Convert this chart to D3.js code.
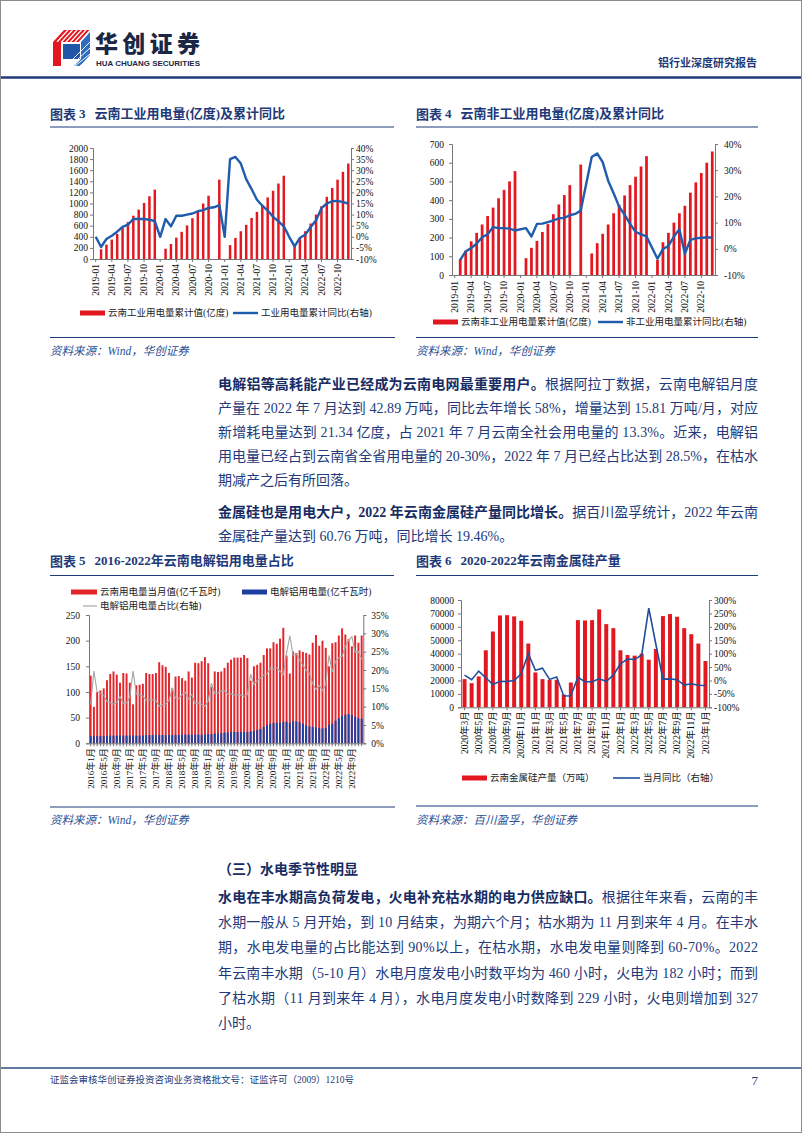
<!DOCTYPE html>
<html>
<head>
<meta charset="utf-8">
<script src="https://cdn.jsdelivr.net/npm/d3@7"></script>
<style>
  html, body { margin: 0; padding: 0; background: #fff; }
  svg { display: block; }
</style>
</head>
<body>
<div id="page"></div>
<script>
var width = 802;
var height = 1133;

var NAVY = '#1f3a78';
var TEXT = '#22397a';
var RED = '#e3171f';
var BLUE = '#1f5cae';
var SERIF = '"Liberation Serif", "Noto Sans CJK SC", serif';
var CJK = '"Noto Sans CJK SC", sans-serif';

// ---------- 图表3 / 图表4 : 2019-01 ~ 2022-12 ----------
var months34 = [];
for (var yy = 2019; yy <= 2022; yy++) for (var mm = 1; mm <= 12; mm++) months34.push(yy + '-' + (mm < 10 ? '0' + mm : mm));
var ticks34 = months34.filter((d, i) => i % 3 === 0);

// 云南工业用电量累计值(亿度)
var indCum = [
  null, 175, 260, 350, 450, 560, 665, 780, 890, 1010, 1130, 1250,
  null, 185, 270, 385, 490, 605, 735, 860, 1000, 1140, null, 1430,
  null, 250, 380, 500, 615, 740, 850, 975, 1110, 1230, 1360, 1500,
  null, 240, 370, 500, 640, 800, 950, 1120, 1280, 1430, 1570, 1720
];
// 工业用电量累计同比(%)
var indYoy = [
  0, -4.6, -1, 0.5, 2.3, 4.5, 5.5, 8, 8, 8, 7.7, 7,
  0, 8, 4.7, 9.5, 9.5, 10, 10.5, 11.5, 12, 13, 13.3, 14.3,
  0, 35, 36, 33, 26, 21.5, 16.7, 14, 11.8, 9, 7, 4.7,
  0, -4.3, -0.5, 1, 4.4, 7.4, 12.9, 15, 16, 16.2, 15.6, 15
];
// 云南非工业用电量累计值(亿度)
var nonCum = [
  null, 85, 130, 180, 225, 270, 315, 360, 410, 455, 500, 555,
  null, 90, 145, 182, 230, 272, 325, 377, 427, 480, null, 590,
  null, 115, 170, 220, 270, 330, 375, 425, 480, 525, 580, 635,
  null, 80, 175, 225, 280, 330, 370, 440, 495, 545, 600, 660
];
// 非工业用电量累计同比(%)
var nonYoy = [
  null, -4.2, -1, 0.3, 2, 4.4, 5.5, 8.3, 7.9, 7.9, 7.7, 7,
  null, 7.9, 4.7, 9.5, 9.6, 10.2, 10.8, 11.6, 11.8, 12.8, 13.3, 14.6,
  null, 35, 36.4, 33.1, 26, 21.2, 16.1, 13, 9.5, 6.5, 5.5, 4.7,
  null, -3.8, -0.1, 1.1, 4.7, 7.5, -1.9, 3.4, 4, 4.2, 4.3, 4.3
];

// ---------- 图表5 : 2016-01 ~ 2022-12 ----------
var months5 = [];
for (var y5 = 2016; y5 <= 2022; y5++) for (var m5 = 1; m5 <= 12; m5++) months5.push(y5 + '年' + m5 + '月');
var ticks5 = months5.filter((d, i) => i % 4 === 0);
// 云南用电量当月值(亿千瓦时)
var ynPower = [
  132, 71, 100, 103, 107, 123, 135, 140, 134, 118, 137, 136,
  118, 76, 113, 114, 116, 137, 135, 135, 137, 158, 152, 149,
  137, 107, 130, 131, 127, 122, 140, 128, 157, 156, 160, 168,
  156, 110, 140, 139, 140, 147, 157, 163, 167, 167, 167, 172,
  166, 122, 150, 153, 157, 172, 185, 185, 197, 194, 204, 225,
  171, 136, 179, 176, 181, 178, 176, 173, 196, 211, 190, 200,
  186, 150, 195, 197, 210, 224, 212, 203, 189, 210, 196, 210
];
// 电解铝用电量(亿千瓦时)
var alPower = [
  14, 14, 14, 14, 14, 14, 15, 15, 15, 15, 15, 15,
  15, 15, 15, 15, 15, 16, 16, 16, 16, 16, 16, 16,
  16, 16, 16, 16, 17, 17, 17, 17, 17, 17, 17, 17,
  18, 18, 19, 19, 20, 21, 21, 22, 22, 22, 22, 22,
  22, 23, 24, 26, 28, 32, 35, 38, 40, 40, 40, 42,
  42, 40, 43, 43, 41, 38, 35, 33, 32, 31, 30, 29,
  30, 36, 38, 44, 49, 53, 56, 57, 55, 52, 49, 48
];
// 电解铝用电量占比(%)
var alShare = [
  10.6, 19.7, 14, 13.6, 13.1, 11.4, 11.1, 10.7, 11.2, 12.7, 10.9, 11,
  12.7, 19.7, 13.3, 13.2, 12.9, 11.7, 11.9, 11.9, 11.7, 10.1, 10.5, 10.7,
  11.7, 15, 12.3, 12.2, 13.4, 13.9, 12.1, 13.3, 10.8, 10.9, 10.6, 10.1,
  11.5, 16.4, 13.6, 13.7, 14.3, 14.3, 13.4, 13.5, 13.2, 13.2, 13.2, 12.8,
  13.3, 18.9, 16, 17, 17.8, 18.6, 18.9, 20.5, 20.3, 20.6, 19.6, 18.7,
  24.6, 29.4, 24, 24.4, 22.7, 21.3, 19.9, 19.1, 16.3, 14.7, 15.8, 14.5,
  16.1, 24, 19.5, 22.3, 23.3, 23.7, 26.4, 28.1, 29.1, 24.8, 25, 22.9
];

// ---------- 图表6 : 2020-03 ~ 2023-01 ----------
var months6 = [];
for (var k = 0; k < 35; k++) { var mAbs = 2020 * 12 + 2 + k; months6.push(Math.floor(mAbs / 12) + '年' + (mAbs % 12 + 1) + '月'); }
var ticks6 = months6.filter((d, i) => i % 2 === 0);
// 云南金属硅产量
var siOutput = [
  21000, 18000, 23000, 42500, 56500, 68500, 68700, 67800, 64500, 47500,
  26000, 21000, 20500, 20500, 9500, 18500, 65000, 64700, 65000, 73000,
  62000, 59000, 42500, 39000, 38500, 40000, 35500, 43500, 68000, 69500,
  67500, 59000, 54500, 47500, 34500
];
// 当月同比(%)
var siYoy = [
  20, 3, 35, 10, -15, -3, -4, 0, 25, 100,
  38, 46, 4, 13, -58, -57, 12, -5, -5, 6,
  -3, 20, 62, 80, 78, 95, 270, 135, 5, 6,
  3, -17, -12, -18, -19
];

// ======================================================
var svg = d3.select('#page').append('svg')
  .attr('width', width)
  .attr('height', height);

svg.append('rect')
  .attr('x', 0.5).attr('y', 0.5)
  .attr('width', width - 1).attr('height', height - 1)
  .attr('fill', '#fff').attr('stroke', '#8c8c8c');

// ---------- header ----------
var logo = svg.append('g');
logo.append('polygon').attr('points', '53,42 64,30 90,30 79,42').attr('fill', RED);
for (var s = 0; s < 6; s++) {
  logo.append('line')
    .attr('x1', 57 + s * 4.5).attr('y1', 42).attr('x2', 68 + s * 4.5).attr('y2', 30)
    .attr('stroke', '#fff').attr('stroke-width', 1.2);
}
logo.append('rect').attr('x', 53).attr('y', 42).attr('width', 8).attr('height', 24).attr('fill', RED);
logo.append('rect').attr('x', 63).attr('y', 44).attr('width', 17).attr('height', 15).attr('fill', '#1f56a8');
logo.append('polygon').attr('points', '63,66 80,66 90,55 90,32 81,42 81,59 74,66').attr('fill', '#2d6cc0');
for (var s2 = 0; s2 < 4; s2++) {
  logo.append('line')
    .attr('x1', 66 + s2 * 4.5).attr('y1', 66).attr('x2', 90).attr('y2', 42 + s2 * 6)
    .attr('stroke', '#fff').attr('stroke-width', 1);
}
svg.append('text').attr('x', 95).attr('y', 52)
  .attr('font-family', CJK).attr('font-weight', 900).attr('font-size', 23)
  .attr('fill', '#1b2745').attr('textLength', 105).text('华创证券');
svg.append('text').attr('x', 96).attr('y', 66)
  .attr('font-family', '"Liberation Sans", sans-serif').attr('font-weight', 700).attr('font-size', 6.5)
  .attr('fill', '#1b2745').attr('textLength', 104).attr('lengthAdjust', 'spacingAndGlyphs')
  .text('HUA CHUANG SECURITIES');
svg.append('text').attr('x', 757).attr('y', 67).attr('text-anchor', 'end')
  .attr('font-family', CJK).attr('font-weight', 700).attr('font-size', 11)
  .attr('fill', NAVY).text('铝行业深度研究报告');
svg.append('line').attr('x1', 1).attr('x2', 801).attr('y1', 77.5).attr('y2', 77.5)
  .attr('stroke', NAVY).attr('stroke-width', 2.5);

// ---------- helpers ----------
function hline(x1, x2, y, w) {
  svg.append('line').attr('x1', x1).attr('x2', x2).attr('y1', y).attr('y2', y)
    .attr('stroke', NAVY).attr('stroke-width', w || 1);
}
function chartTitle(x, y, num, txt) {
  var t = svg.append('text').attr('x', x).attr('y', y).attr('dominant-baseline', 'central')
    .attr('font-family', SERIF).attr('font-weight', 700).attr('font-size', 13).attr('fill', NAVY);
  t.append('tspan').attr('font-family', CJK).text('图表 ');
  t.append('tspan').text(num);
  t.append('tspan').attr('dx', 9).text(txt);
}
function sourceNote(x, y, txt) {
  svg.append('text').attr('x', x).attr('y', y).attr('dominant-baseline', 'central')
    .attr('font-family', SERIF).attr('font-style', 'italic').attr('font-size', 11.5)
    .attr('fill', '#2a4f96').text(txt);
}
function styleAxis(g, size) {
  g.attr('font-family', SERIF).attr('font-size', size);
  g.selectAll('text').attr('fill', '#111');
  g.selectAll('line').attr('stroke', '#777');
  g.select('.domain').attr('stroke', '#777');
}
function rotateLabels(g, gap) {
  g.selectAll('text')
    .attr('transform', 'rotate(-90)')
    .attr('x', -gap).attr('y', 0).attr('dy', '0.33em')
    .style('text-anchor', 'end');
}
function legendRect(x, y, w, color, label) {
  svg.append('rect').attr('x', x).attr('y', y - 2.5).attr('width', w).attr('height', 5).attr('fill', color);
  svg.append('text').attr('x', x + w + 3).attr('y', y).attr('dominant-baseline', 'central')
    .attr('font-family', SERIF).attr('font-size', 9.5).attr('fill', '#222').text(label);
}
function legendLine(x, y, w, color, sw, label) {
  svg.append('line').attr('x1', x).attr('x2', x + w).attr('y1', y).attr('y2', y)
    .attr('stroke', color).attr('stroke-width', sw);
  svg.append('text').attr('x', x + w + 3).attr('y', y).attr('dominant-baseline', 'central')
    .attr('font-family', SERIF).attr('font-size', 9.5).attr('fill', '#222').text(label);
}

// ---------- 图表3 ----------
chartTitle(50, 113, '3', '云南工业用电量(亿度)及累计同比');
hline(50, 394, 127);
(function () {
  var x = d3.scaleBand().domain(months34).range([93, 351]);
  var y = d3.scaleLinear().domain([0, 2000]).range([259, 148]);
  var yr = d3.scaleLinear().domain([-10, 40]).range([259, 148]);
  var bw = x.bandwidth();
  var g = svg.append('g');
  var rows = months34.map((m, i) => ({ m: m, v: indCum[i], r: indYoy[i] }));
  g.selectAll('rect').data(rows.filter(d => d.v != null)).enter().append('rect')
    .attr('x', d => x(d.m) + bw * 0.27).attr('width', bw * 0.46)
    .attr('y', d => y(d.v)).attr('height', d => y(0) - y(d.v)).attr('fill', RED);
  var ga = g.append('g').attr('transform', 'translate(93,0)')
    .call(d3.axisLeft(y).tickValues(d3.range(0, 2001, 200)).tickFormat(d3.format('d')).tickSize(3).tickPadding(2));
  styleAxis(ga, 9.5);
  var gr = g.append('g').attr('transform', 'translate(351,0)')
    .call(d3.axisRight(yr).tickValues(d3.range(-10, 41, 5)).tickFormat(d => d + '%').tickSize(3).tickPadding(2));
  styleAxis(gr, 9.5);
  var gb = g.append('g').attr('transform', 'translate(0,259)')
    .call(d3.axisBottom(x).tickValues(ticks34).tickSize(3).tickSizeOuter(0));
  styleAxis(gb, 9.5);
  rotateLabels(gb, 5);
  g.append('path').datum(rows)
    .attr('d', d3.line().x(d => x(d.m) + bw / 2).y(d => yr(d.r)))
    .attr('fill', 'none').attr('stroke', BLUE).attr('stroke-width', 2.4).attr('stroke-linejoin', 'round');
})();
legendRect(80, 313, 25, RED, '云南工业用电量累计值(亿度)');
legendLine(233, 313, 25, BLUE, 2.4, '工业用电量累计同比(右轴)');
hline(50, 395, 337.5);
sourceNote(50, 351, '资料来源：Wind，华创证券');

// ---------- 图表4 ----------
chartTitle(416, 113, '4', '云南非工业用电量(亿度)及累计同比');
hline(416, 758, 127);
(function () {
  var x = d3.scaleBand().domain(months34).range([452, 715]);
  var y = d3.scaleLinear().domain([0, 700]).range([275, 144]);
  var yr = d3.scaleLinear().domain([-10, 40]).range([275, 144]);
  var bw = x.bandwidth();
  var g = svg.append('g');
  var rows = months34.map((m, i) => ({ m: m, v: nonCum[i], r: nonYoy[i] }));
  g.selectAll('rect').data(rows.filter(d => d.v != null)).enter().append('rect')
    .attr('x', d => x(d.m) + bw * 0.25).attr('width', bw * 0.5)
    .attr('y', d => y(d.v)).attr('height', d => y(0) - y(d.v)).attr('fill', RED);
  var ga = g.append('g').attr('transform', 'translate(452,0)')
    .call(d3.axisLeft(y).tickValues(d3.range(0, 701, 100)).tickSize(3).tickPadding(5));
  styleAxis(ga, 9.5);
  var gr = g.append('g').attr('transform', 'translate(715,0)')
    .call(d3.axisRight(yr).tickValues(d3.range(-10, 41, 10)).tickFormat(d => d + '%').tickSize(3).tickPadding(6));
  styleAxis(gr, 9.5);
  var gb = g.append('g').attr('transform', 'translate(0,275)')
    .call(d3.axisBottom(x).tickValues(ticks34).tickSize(3).tickSizeOuter(0));
  styleAxis(gb, 9.5);
  rotateLabels(gb, 6);
  g.append('path').datum(rows.filter(d => d.r != null))
    .attr('d', d3.line().x(d => x(d.m) + bw / 2).y(d => yr(d.r)))
    .attr('fill', 'none').attr('stroke', BLUE).attr('stroke-width', 2.4).attr('stroke-linejoin', 'round');
})();
legendRect(433, 322, 25, RED, '云南非工业用电量累计值(亿度)');
legendLine(598, 322, 25, BLUE, 2.4, '非工业用电量累计同比(右轴)');
hline(416, 758, 337.5);
sourceNote(416, 351, '资料来源：Wind，华创证券');

// ---------- body text ----------
function textLine(x, y, parts, justify) {
  var t = svg.append('text').attr('x', x).attr('y', y).attr('dominant-baseline', 'central')
    .attr('font-family', SERIF).attr('font-size', 14).attr('fill', TEXT);
  if (justify) t.attr('textLength', 540).attr('lengthAdjust', 'spacing');
  parts.forEach(function (p) {
    var sp = t.append('tspan').text(p[0]);
    if (p[1]) sp.attr('font-weight', 700).attr('fill', '#162c63');
  });
}
var para1 = [
  [['电解铝等高耗能产业已经成为云南电网最重要用户。', 1], ['根据阿拉丁数据，云南电解铝月度']],
  [['产量在 2022 年 7 月达到 42.89 万吨，同比去年增长 58%，增量达到 15.81 万吨/月，对应']],
  [['新增耗电量达到 21.34 亿度，占 2021 年 7 月云南全社会用电量的 13.3%。近来，电解铝']],
  [['用电量已经占到云南省全省用电量的 20-30%，2022 年 7 月已经占比达到 28.5%，在枯水']],
  [['期减产之后有所回落。']]
];
para1.forEach((ln, i) => textLine(218, 384 + i * 24, ln, i < para1.length - 1));
var para2 = [
  [['金属硅也是用电大户，2022 年云南金属硅产量同比增长。', 1], ['据百川盈孚统计，2022 年云南']],
  [['金属硅产量达到 60.76 万吨，同比增长 19.46%。']]
];
para2.forEach((ln, i) => textLine(218, 512 + i * 24, ln, i < para2.length - 1));

// ---------- 图表5 ----------
chartTitle(50, 560, '5', '2016-2022年云南电解铝用电量占比');
hline(50, 394, 575.5);
legendRect(71, 592, 26, '#e3262c', '云南用电量当月值(亿千瓦时)');
legendRect(242, 592, 25, '#1f3f9f', '电解铝用电量(亿千瓦时)');
legendLine(83, 606, 14, '#a6a6a6', 1.2, '电解铝用电量占比(右轴)');
(function () {
  var x = d3.scaleBand().domain(months5).range([89, 363.3]);
  var y = d3.scaleLinear().domain([0, 250]).range([743.3, 615]);
  var yr = d3.scaleLinear().domain([0, 35]).range([743.3, 615]);
  var bw = x.bandwidth();
  var g = svg.append('g');
  var rows = months5.map((m, i) => ({ m: m, v: ynPower[i], a: alPower[i], r: alShare[i] }));
  g.selectAll('rect.tot').data(rows).enter().append('rect').attr('class', 'tot')
    .attr('x', d => x(d.m) + bw * 0.2).attr('width', bw * 0.6)
    .attr('y', d => y(d.v)).attr('height', d => y(0) - y(d.v)).attr('fill', '#e3262c');
  g.selectAll('rect.al').data(rows).enter().append('rect').attr('class', 'al')
    .attr('x', d => x(d.m) + bw * 0.2).attr('width', bw * 0.6)
    .attr('y', d => y(d.a)).attr('height', d => y(0) - y(d.a)).attr('fill', '#1f3f9f');
  var ga = g.append('g').attr('transform', 'translate(89,0)')
    .call(d3.axisLeft(y).tickValues(d3.range(0, 251, 50)).tickSize(3).tickPadding(6));
  styleAxis(ga, 9.5);
  var gr = g.append('g').attr('transform', 'translate(363.3,0)')
    .call(d3.axisRight(yr).tickValues(d3.range(0, 36, 5)).tickFormat(d => d + '%').tickSize(3).tickPadding(5));
  styleAxis(gr, 9.5);
  var gb = g.append('g').attr('transform', 'translate(0,743.3)')
    .call(d3.axisBottom(x).tickSize(3).tickSizeOuter(0).tickFormat(d => ticks5.indexOf(d) >= 0 ? d : ''));
  styleAxis(gb, 9);
  rotateLabels(gb, 5);
  g.append('path').datum(rows)
    .attr('d', d3.line().x(d => x(d.m) + bw / 2).y(d => yr(d.r)))
    .attr('fill', 'none').attr('stroke', '#a6a6a6').attr('stroke-width', 1.1);
})();
hline(50, 395, 807);
sourceNote(50, 820, '资料来源：Wind，华创证券');

// ---------- 图表6 ----------
chartTitle(416, 560, '6', '2020-2022年云南金属硅产量');
hline(416, 758, 575.5);
(function () {
  var x = d3.scaleBand().domain(months6).range([461, 709]);
  var y = d3.scaleLinear().domain([0, 80000]).range([707.3, 600]);
  var yr = d3.scaleLinear().domain([-100, 300]).range([707.3, 600]);
  var bw = x.bandwidth();
  var g = svg.append('g');
  var rows = months6.map((m, i) => ({ m: m, v: siOutput[i], r: siYoy[i] }));
  g.selectAll('rect').data(rows).enter().append('rect')
    .attr('x', d => x(d.m) + bw * 0.22).attr('width', bw * 0.56)
    .attr('y', d => y(d.v)).attr('height', d => y(0) - y(d.v)).attr('fill', RED);
  var ga = g.append('g').attr('transform', 'translate(461,0)')
    .call(d3.axisLeft(y).tickValues(d3.range(0, 80001, 10000)).tickFormat(d3.format('d')).tickSize(3).tickPadding(4));
  styleAxis(ga, 9.5);
  var gr = g.append('g').attr('transform', 'translate(709,0)')
    .call(d3.axisRight(yr).tickValues(d3.range(-100, 301, 50)).tickFormat(d => d + '%').tickSize(3).tickPadding(2));
  styleAxis(gr, 9.5);
  var gb = g.append('g').attr('transform', 'translate(0,707.3)')
    .call(d3.axisBottom(x).tickValues(ticks6).tickSize(3).tickSizeOuter(0));
  styleAxis(gb, 9.5);
  rotateLabels(gb, 4);
  g.append('path').datum(rows)
    .attr('d', d3.line().x(d => x(d.m) + bw / 2).y(d => yr(d.r)))
    .attr('fill', 'none').attr('stroke', '#1f4e9c').attr('stroke-width', 1.6);
})();
legendRect(462, 778, 25, RED, '云南金属硅产量（万吨）');
legendLine(613, 778, 27, '#1f4e9c', 1.6, '当月同比（右轴）');
hline(416, 758, 806);
sourceNote(416, 820, '资料来源：百川盈孚，华创证券');

// ---------- section 三 ----------
svg.append('text').attr('x', 218).attr('y', 868).attr('dominant-baseline', 'central')
  .attr('font-family', CJK).attr('font-weight', 700).attr('font-size', 14).attr('fill', '#162c63')
  .text('（三）水电季节性明显');
var para3 = [
  [['水电在丰水期高负荷发电，火电补充枯水期的电力供应缺口。', 1], ['根据往年来看，云南的丰']],
  [['水期一般从 5 月开始，到 10 月结束，为期六个月；枯水期为 11 月到来年 4 月。在丰水']],
  [['期，水电发电量的占比能达到 90%以上，在枯水期，水电发电量则降到 60-70%。2022']],
  [['年云南丰水期（5-10 月）水电月度发电小时数平均为 460 小时，火电为 182 小时；而到']],
  [['了枯水期（11 月到来年 4 月），水电月度发电小时数降到 229 小时，火电则增加到 327']],
  [['小时。']]
];
para3.forEach((ln, i) => textLine(218, 897 + i * 25.2, ln, i < para3.length - 1));

// ---------- footer ----------
svg.append('line').attr('x1', 1).attr('x2', 801).attr('y1', 1068).attr('y2', 1068)
  .attr('stroke', '#2a4f7d').attr('stroke-width', 1.5);
svg.append('text').attr('x', 50).attr('y', 1080).attr('dominant-baseline', 'central')
  .attr('font-family', SERIF).attr('font-size', 9.5).attr('fill', TEXT)
  .text('证监会审核华创证券投资咨询业务资格批文号：证监许可（2009）1210号');
svg.append('text').attr('x', 758).attr('y', 1080).attr('dominant-baseline', 'central').attr('text-anchor', 'end')
  .attr('font-family', SERIF).attr('font-size', 13).attr('fill', TEXT).text('7');
</script>
</body>
</html>
